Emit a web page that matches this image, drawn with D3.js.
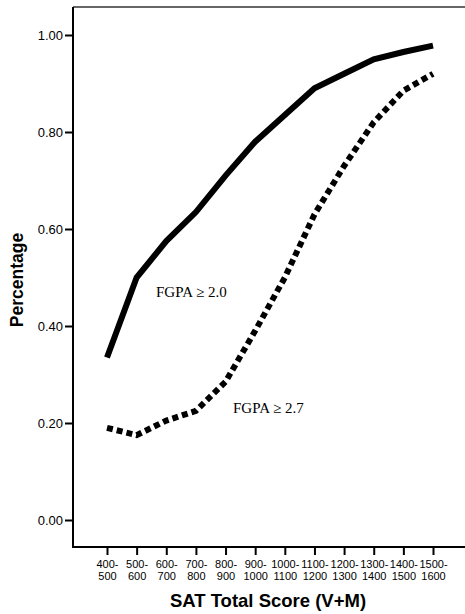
<!DOCTYPE html>
<html>
<head>
<meta charset="utf-8">
<script src="https://cdn.jsdelivr.net/npm/d3@7"></script>
<style>
  body { margin: 0; background: #fff; }
  svg { display: block; }
</style>
</head>
<body>
<script>
'use strict';

const categories = ["400-500", "500-600", "600-700", "700-800", "800-900", "900-1000",
  "1000-1100", "1100-1200", "1200-1300", "1300-1400", "1400-1500", "1500-1600"];
const fgpa20 = [0.335, 0.50, 0.575, 0.635, 0.71, 0.78, 0.835, 0.89, 0.92, 0.95, 0.965, 0.978];
const fgpa27 = [0.19, 0.175, 0.205, 0.225, 0.285, 0.39, 0.50, 0.63, 0.73, 0.82, 0.885, 0.92];
const yTicks = [0, 0.2, 0.4, 0.6, 0.8, 1.0];

(function() {
  let width = 465;
  let height = 614;
  let svg = d3.select("body").append("svg")
    .attr("width", width)
    .attr("height", height);

  let frameLeft = 73, frameTop = 7, frameBottom = 547;

  let x = d3.scalePoint()
    .domain(categories)
    .range([107, 433]);
  let y = d3.scaleLinear()
    .domain([0, 1])
    .range([520, 35]);

  // frame: top line
  svg.append("line")
    .attr("x1", frameLeft).attr("x2", width)
    .attr("y1", frameTop).attr("y2", frameTop)
    .attr("stroke", "#333").attr("stroke-width", 1.5);

  // y axis
  let yAxis = svg.append("g")
    .attr("transform", "translate(" + frameLeft + ",0)")
    .call(d3.axisLeft(y).tickValues(yTicks).tickFormat(d3.format(".2f")).tickSize(8).tickSizeOuter(0));
  yAxis.select(".domain").remove();
  yAxis.append("line")
    .attr("x1", 0).attr("x2", 0)
    .attr("y1", frameTop).attr("y2", frameBottom)
    .attr("stroke", "#000").attr("stroke-width", 2);
  yAxis.selectAll(".tick line").attr("stroke-width", 2);
  yAxis.selectAll(".tick text")
    .attr("x", -10)
    .style("font-family", "Arial, 'Liberation Sans', sans-serif")
    .style("font-size", "13px")
    .attr("fill", "#000");

  // x axis
  let xAxis = svg.append("g")
    .attr("transform", "translate(0," + frameBottom + ")")
    .call(d3.axisBottom(x).tickSize(8).tickSizeOuter(0).tickFormat(""));
  xAxis.select(".domain").remove();
  xAxis.append("line")
    .attr("x1", frameLeft - 1).attr("x2", width)
    .attr("y1", 0).attr("y2", 0)
    .attr("stroke", "#000").attr("stroke-width", 2);
  xAxis.selectAll(".tick line").attr("stroke-width", 2);
  xAxis.selectAll(".tick").each(function(d) {
    let parts = d.split("-");
    let t = d3.select(this).append("text")
      .attr("fill", "#000")
      .attr("text-anchor", "middle")
      .style("font-family", "Arial, 'Liberation Sans', sans-serif")
      .style("font-size", "11px");
    t.append("tspan").attr("x", 0).attr("y", 21).text(parts[0] + "-");
    t.append("tspan").attr("x", 0).attr("y", 33).text(parts[1]);
  });

  // axis titles
  svg.append("text")
    .attr("transform", "translate(23,280) rotate(-90)")
    .attr("text-anchor", "middle")
    .style("font-family", "Arial, 'Liberation Sans', sans-serif")
    .style("font-weight", "bold")
    .style("font-size", "17.5px")
    .text("Percentage");

  svg.append("text")
    .attr("x", 268).attr("y", 607)
    .attr("text-anchor", "middle")
    .style("font-family", "Arial, 'Liberation Sans', sans-serif")
    .style("font-weight", "bold")
    .style("font-size", "18.5px")
    .text("SAT Total Score (V+M)");

  // lines
  let line = d3.line()
    .x((d, i) => x(categories[i]))
    .y(d => y(d));

  svg.append("path")
    .datum(fgpa20)
    .attr("fill", "none")
    .attr("stroke", "#000")
    .attr("stroke-width", 6)
    .attr("d", line);

  svg.append("path")
    .datum(fgpa27)
    .attr("fill", "none")
    .attr("stroke", "#000")
    .attr("stroke-width", 6)
    .attr("stroke-dasharray", "6 4")
    .attr("d", line);

  // labels
  svg.append("text")
    .attr("x", 156).attr("y", 297)
    .style("font-family", "'Liberation Serif', 'Times New Roman', serif")
    .style("font-size", "15px")
    .text("FGPA \u2265 2.0");

  svg.append("text")
    .attr("x", 233).attr("y", 413)
    .style("font-family", "'Liberation Serif', 'Times New Roman', serif")
    .style("font-size", "15px")
    .text("FGPA \u2265 2.7");
})();
</script>
</body>
</html>
